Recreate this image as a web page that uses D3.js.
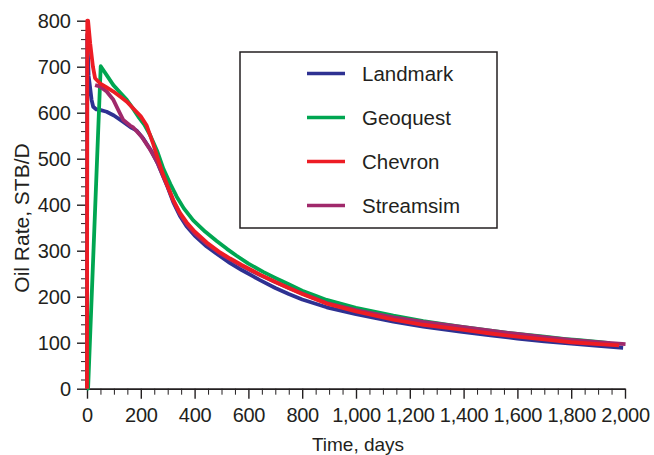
<!DOCTYPE html>
<html>
<head>
<meta charset="utf-8">
<script src="https://cdn.jsdelivr.net/npm/d3@7/dist/d3.min.js"></script>
<style>
  html, body { margin: 0; padding: 0; background: #fff; }
  svg text { font-family: "Liberation Sans", Arial, Helvetica, sans-serif; fill: #231f20; }
</style>
</head>
<body>
<svg id="chart" width="654" height="455"></svg>
<script>
// Simulated oil rate (STB/D) versus time (days) for four simulators
const seriesNames = ["Landmark", "Geoquest", "Chevron", "Streamsim"];
const seriesColors = ["#2e3192", "#00a651", "#ed1c24", "#a0296b"];

const landmark = [
  [0, 0], [1, 770], [6, 680], [11, 657], [17, 628], [23, 613], [35, 607], [48, 606],
  [73, 602], [100, 594], [135, 580], [166, 567], [185, 561], [209, 544], [240, 516],
  [265, 487], [284, 460], [300, 438], [321, 405], [345, 376], [370, 353], [400, 333],
  [445, 309], [490, 290], [532, 273], [575, 258], [618, 244], [643, 236], [700, 219],
  [750, 206], [800, 194], [891, 177], [1000, 162], [1139, 146], [1250, 135], [1387, 124],
  [1500, 116], [1600, 109], [1700, 103], [1800, 98], [1900, 93], [1993, 89]
];
const geoquest = [
  [0, 0], [4, 0], [51, 701], [75, 680], [98, 660], [123, 644], [148, 628], [170, 610],
  [191, 591], [213, 574], [234, 552], [260, 518], [284, 478], [310, 445], [333, 418],
  [360, 392], [395, 366], [440, 341], [482, 321], [520, 304], [556, 289], [600, 272],
  [655, 254], [700, 241], [750, 227], [800, 213], [850, 202], [891, 193], [1000, 176],
  [1139, 159], [1250, 147], [1387, 135], [1500, 126], [1600, 119], [1700, 113],
  [1780, 108], [1820, 106], [1900, 102], [1943, 99]
];
const chevron = [
  [0, 0], [1, 800], [4, 800], [12, 750], [22, 700], [30, 675], [48, 664], [73, 655],
  [98, 646], [123, 635], [148, 624], [172, 609], [200, 592], [222, 572], [246, 532],
  [265, 497], [284, 464], [300, 440], [321, 410], [345, 383], [370, 362], [400, 342],
  [445, 318], [490, 298], [532, 283], [575, 269], [618, 256], [643, 248], [700, 232],
  [750, 219], [800, 206], [891, 185], [1000, 168], [1139, 150], [1250, 139],
  [1387, 129], [1500, 120], [1600, 113], [1700, 107], [1800, 101], [1900, 97], [1978, 94]
];
const streamsim = [
  [30, 660], [48, 657], [73, 646], [98, 628], [116, 606], [135, 584], [160, 572],
  [172, 568], [203, 548], [230, 524], [260, 494], [284, 461], [300, 439], [321, 408],
  [345, 380], [370, 358], [400, 338], [445, 315], [490, 296], [532, 281], [575, 267],
  [618, 254], [643, 247], [700, 232], [750, 219], [800, 207], [891, 186], [1000, 171],
  [1139, 155], [1250, 145], [1387, 135], [1500, 126], [1600, 119], [1700, 112],
  [1800, 106], [1900, 101], [2002, 97]
];
const seriesData = [landmark, geoquest, chevron, streamsim];

const xTicks = [0, 200, 400, 600, 800, 1000, 1200, 1400, 1600, 1800, 2000];
const yTicks = [0, 100, 200, 300, 400, 500, 600, 700, 800];

const svg = d3.select("#chart");
const W = 654, H = 455;
const margin = { left: 87, right: 29, top: 20.7, bottom: 66.3 };

const x = d3.scaleLinear().domain([0, 2000]).range([margin.left, W - margin.right]);
const y = d3.scaleLinear().domain([0, 800]).range([H - margin.bottom, margin.top]);

const axisColor = "#231f20";
const tickFont = 20;

// Minor ticks: every 50 days and every 20 STB/D
const xMinor = d3.range(0, 2001, 50).filter(v => v % 200 !== 0);
const yMinor = d3.range(0, 801, 20).filter(v => v % 100 !== 0);

svg.append("g")
  .attr("transform", `translate(0,${y(0)})`)
  .call(d3.axisBottom(x).tickValues(xMinor).tickSize(6).tickFormat(""))
  .call(g => g.select(".domain").remove())
  .selectAll("line").attr("stroke", axisColor).attr("stroke-width", 1);

svg.append("g")
  .attr("transform", `translate(${x(0)},0)`)
  .call(d3.axisLeft(y).tickValues(yMinor).tickSize(6).tickFormat(""))
  .call(g => g.select(".domain").remove())
  .selectAll("line").attr("stroke", axisColor).attr("stroke-width", 1);

const xAxis = svg.append("g")
  .attr("transform", `translate(0,${y(0)})`)
  .call(d3.axisBottom(x).tickValues(xTicks).tickSize(10).tickSizeOuter(0).tickPadding(9)
    .tickFormat(d3.format(",")));
xAxis.select(".domain").attr("stroke", axisColor).attr("stroke-width", 1.8);
xAxis.selectAll(".tick line").attr("stroke", axisColor).attr("stroke-width", 1.4);
xAxis.selectAll("text").attr("font-size", tickFont).attr("fill", axisColor)
  .attr("letter-spacing", "-0.3px")
  .style("font-family", "'Liberation Sans', Arial, sans-serif");

const yAxis = svg.append("g")
  .attr("transform", `translate(${x(0)},0)`)
  .call(d3.axisLeft(y).tickValues(yTicks).tickSize(10).tickSizeOuter(0).tickPadding(6));
yAxis.select(".domain").attr("stroke", axisColor).attr("stroke-width", 1.8);
yAxis.selectAll(".tick line").attr("stroke", axisColor).attr("stroke-width", 1.4);
yAxis.selectAll("text").attr("font-size", tickFont).attr("fill", axisColor)
  .style("font-family", "'Liberation Sans', Arial, sans-serif");

// Axis titles
svg.append("text")
  .attr("x", 358).attr("y", 451)
  .attr("text-anchor", "middle").attr("font-size", 19)
  .text("Time, days");

svg.append("text")
  .attr("transform", "translate(21.5,218) rotate(-90)")
  .attr("text-anchor", "middle").attr("dy", "0.36em").attr("font-size", 21)
  .text("Oil Rate, STB/D");

// Series lines
const line = d3.line().x(d => x(d[0])).y(d => y(d[1]));
const drawOrder = [0, 1, 3, 2];
drawOrder.forEach(i => {
  svg.append("path")
    .datum(seriesData[i])
    .attr("fill", "none")
    .attr("stroke", seriesColors[i])
    .attr("stroke-width", 3.8)
    .attr("stroke-linejoin", "round")
    .attr("d", line);
});

// Legend
const legend = svg.append("g").attr("transform", "translate(240,52)");
legend.append("rect")
  .attr("x", 0).attr("y", 0).attr("width", 257).attr("height", 176)
  .attr("fill", "#fff").attr("stroke", axisColor).attr("stroke-width", 1.5);
seriesNames.forEach((name, i) => {
  const cy = 21.5 + i * 44;
  legend.append("line")
    .attr("x1", 67).attr("x2", 105).attr("y1", cy).attr("y2", cy)
    .attr("stroke", seriesColors[i]).attr("stroke-width", 3.6);
  legend.append("text")
    .attr("x", 122).attr("y", cy).attr("dy", "0.36em")
    .attr("font-size", 20.5)
    .text(name);
});
</script>
</body>
</html>
